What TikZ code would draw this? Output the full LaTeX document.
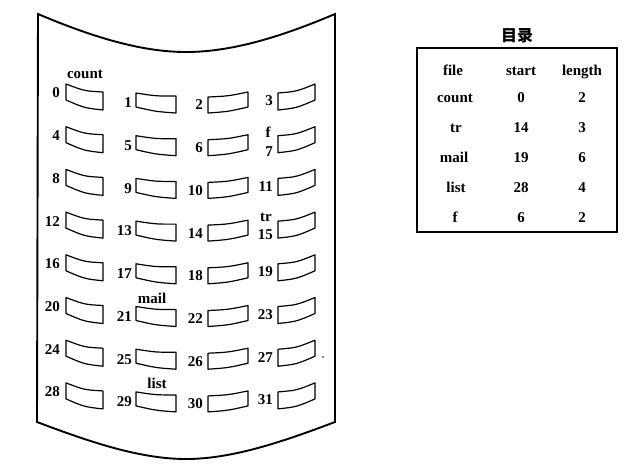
\documentclass[tikz,border=0pt]{standalone}
\usepackage{fontspec}
\setmainfont{Liberation Serif}
\newfontfamily\cjkfont{Noto Sans CJK SC}
\newcommand\drawblk[7]{%
  \draw[blockline] (#1,{#2}) .. controls ({(#1+#4)/2},{(#2+#5)/2+2*#7}) .. (#4,{#5})
    -- (#4,{#6}) .. controls ({(#1+#4)/2},{(#3+#6)/2+2*#7}) .. (#1,{#3}) -- cycle;}
\begin{document}
\begin{tikzpicture}[x=1pt,y=-1pt,
  sheet/.style={line width=1.9pt,line join=miter},
  blockline/.style={line width=1.2pt,line join=round},
  num/.style={anchor=east,inner sep=0pt,font=\fontsize{15}{17}\selectfont\bfseries},
  tag/.style={anchor=base,inner sep=0pt,font=\fontsize{15}{17}\selectfont\bfseries},
  cell/.style={anchor=base,inner sep=0pt,font=\fontsize{15}{17}\selectfont\bfseries},
  tblbox/.style={draw,line width=1.8pt,inner sep=0pt}]
\useasboundingbox (0,0) rectangle (638,467);
% curved sheet
\draw[sheet] (38,14) .. controls (90,36) and (140,52) .. (186,52)
  .. controls (233,52) and (283,36) .. (335,14) -- (335,422)
  .. controls (282,442) and (232,459) .. (186,459)
  .. controls (140,459) and (90,442) .. (37,422) -- cycle;
% blocks
\foreach \r in {0,...,7}{
  \pgfmathsetmacro\dy{42.7*\r}
  \pgfmathtruncatemacro\na{4*\r}
  \pgfmathtruncatemacro\nb{4*\r+1}
  \pgfmathtruncatemacro\nc{4*\r+2}
  \pgfmathtruncatemacro\nd{4*\r+3}
  \pgfmathsetmacro\yd{101+\dy}
  \ifnum\r=1 \def\yd{152}\fi
  \ifnum\r=3 \def\yd{235}\fi
  \drawblk{66}{84+\dy}{100+\dy}{103}{92+\dy}{110+\dy}{1.5}
  \drawblk{136}{93+\dy}{107+\dy}{176}{96+\dy}{113+\dy}{0.8}
  \drawblk{208}{97+\dy}{113+\dy}{248}{92+\dy}{107+\dy}{0.8}
  \drawblk{278}{93+\dy}{110+\dy}{315}{84+\dy}{100+\dy}{1.5}
  \node[num] (n\na) at (60,{93+\dy}) {\na};
  \node[num] (n\nb) at (132,{103+\dy}) {\nb};
  \node[num] (n\nc) at (203,{105+\dy}) {\nc};
  \node[num] (n\nd) at (273,{\yd}) {\nd};
}
% file labels on the sheet
\node[tag] (tcount) at (85,78) {count};
\node[tag] (tf) at (268,137) {f};
\node[tag] (ttr) at (266,221) {tr};
\node[tag] (tmail) at (152,303) {mail};
\node[tag] (tlist) at (157,388) {list};
\fill (323,357) circle (0.8pt);
% directory table
\node[font=\cjkfont\fontsize{16}{18}\selectfont\bfseries,inner sep=0pt] (title) at (517,36) {目录};
\node[tblbox,minimum width=200pt,minimum height=184pt] (tbl) at (517,140) {};
\node[cell] (h1) at (453,75) {file};
\node[cell] (h2) at (521,75) {start};
\node[cell] (h3) at (582,75) {length};
\node[cell] (a1) at (455,102) {count};
\node[cell] (a2) at (521,102) {0};
\node[cell] (a3) at (582,102) {2};
\node[cell] (b1) at (456,132) {tr};
\node[cell] (b2) at (521,132) {14};
\node[cell] (b3) at (582,132) {3};
\node[cell] (c1) at (454,162) {mail};
\node[cell] (c2) at (521,162) {19};
\node[cell] (c3) at (582,162) {6};
\node[cell] (d1) at (456,192) {list};
\node[cell] (d2) at (521,192) {28};
\node[cell] (d3) at (582,192) {4};
\node[cell] (e1) at (455,222) {f};
\node[cell] (e2) at (521,222) {6};
\node[cell] (e3) at (582,222) {2};
\end{tikzpicture}
\end{document}
